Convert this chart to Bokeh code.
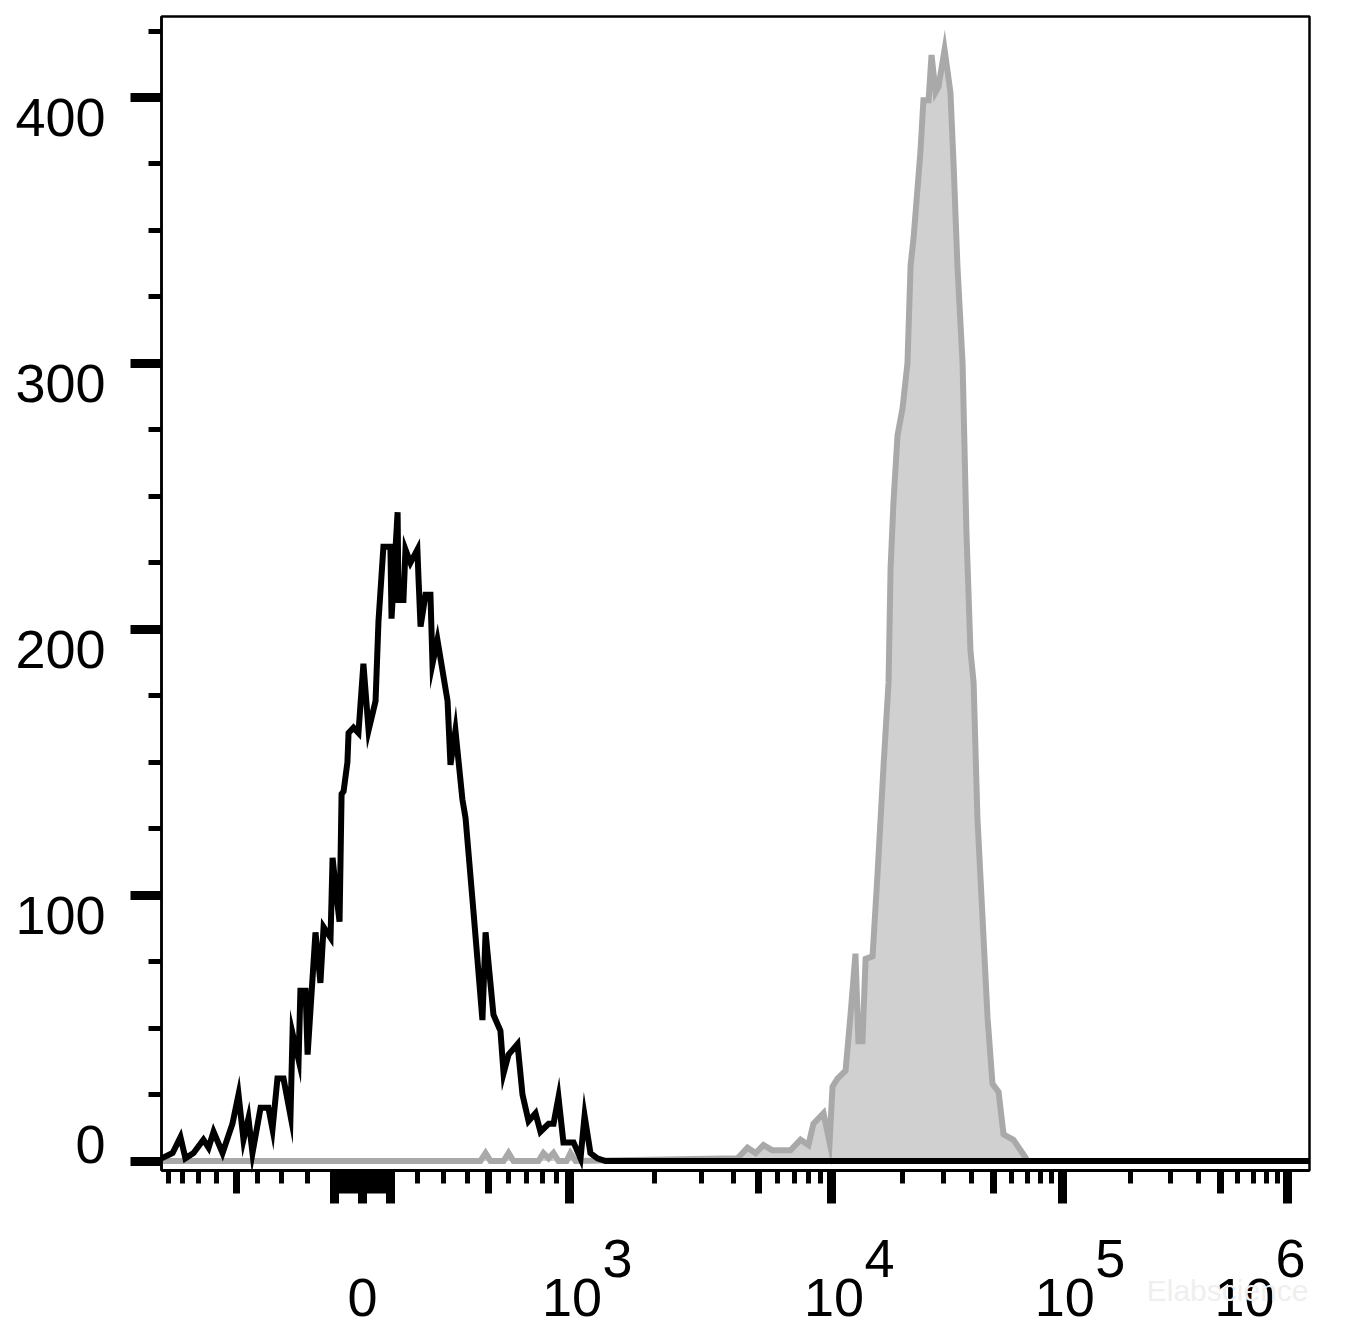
import numpy as np
from bokeh.plotting import figure
from bokeh.models import Range1d, LinearAxis, FixedTicker, Label, BoxAnnotation
from bokeh.embed import file_html
from bokeh.resources import INLINE

# ---------------- data (x = biexponential display position, decades from zero) ----
ctrl_pos = [-0.893, -0.844, -0.809, -0.787, -0.751, -0.707, -0.684, -0.662, -0.622, -0.578,
            -0.551, -0.529, -0.507, -0.489, -0.453, -0.418, -0.400, -0.378, -0.351, -0.320,
            -0.311, -0.284, -0.276, -0.253, -0.244, -0.209, -0.187, -0.173, -0.142, -0.133,
            -0.116, -0.102, -0.093, -0.084, -0.067, -0.062, -0.040, -0.018, 0.004, 0.027,
            0.058, 0.071, 0.093, 0.124, 0.129, 0.156, 0.160, 0.182, 0.191, 0.213,
            0.244, 0.249, 0.258, 0.280, 0.302, 0.311, 0.333, 0.378, 0.391, 0.413,
            0.444, 0.458, 0.493, 0.533, 0.547, 0.582, 0.613, 0.627, 0.649, 0.689,
            0.711, 0.738, 0.769, 0.791, 0.827, 0.849, 0.871, 0.893, 0.938, 0.969,
            0.987, 1.013, 1.044, 1.080, 4.209]
ctrl_count = [1, 3, 9, 1, 3, 8, 5, 11, 3, 14,
              25, 8, 16, 3, 20, 20, 12, 31, 31, 17,
              48, 38, 64, 64, 40, 86, 67, 88, 84, 114,
              100, 90, 138, 139, 150, 161, 163, 161, 187, 162,
              173, 203, 231, 231, 204, 244, 211, 211, 230, 225,
              230, 219, 201, 213, 213, 187, 196, 173, 149, 162,
              136, 129, 94, 53, 86, 55, 49, 33, 40, 44,
              25, 15, 18, 11, 14, 14, 24, 7, 7, 1,
              17, 3, 1, 0, 0]

stain_pos = [-0.893, 0.524, 0.547, 0.569, 0.627, 0.649, 0.671, 0.782, 0.804, 0.827,
             0.849, 0.871, 0.907, 0.924, 0.947, 1.667, 1.711, 1.747, 1.782, 1.822,
             1.902, 1.947, 1.982, 2.004, 2.049, 2.076, 2.089, 2.111, 2.147, 2.169,
             2.191, 2.204, 2.222, 2.236, 2.267, 2.289, 2.316, 2.338, 2.347, 2.360,
             2.378, 2.400, 2.422, 2.436, 2.449, 2.480, 2.493, 2.516, 2.529, 2.547,
             2.560, 2.587, 2.613, 2.627, 2.644, 2.667, 2.684, 2.702, 2.716, 2.733,
             2.756, 2.778, 2.800, 2.827, 2.849, 2.893, 2.933, 2.956, 4.209]
stain_count = [0, 0, 3, 0, 0, 3, 0, 0, 3, 1,
               3, 0, 0, 3, 0, 1, 5, 3, 6, 4,
               4, 8, 6, 14, 18, 7, 28, 31, 34, 55,
               78, 45, 45, 76, 77, 108, 149, 180, 223, 248,
               273, 283, 300, 337, 347, 380, 399, 399, 416, 402,
               404, 418, 402, 375, 337, 300, 237, 192, 180, 129,
               91, 54, 29, 26, 10, 8, 3, 0, 0]

y_major = [0, 100, 200, 300, 400]
y_minor = [25, 50, 75, 125, 150, 175, 225, 250, 275, 325, 350, 375, 425]

x_major_vals = [0, 1e3, 1e4, 1e5, 1e6]
x_major_base = ["0", "10", "10", "10", "10"]
x_major_exp = ["", "3", "4", "5", "6"]
x_hundreds = [-100, 100]
x_medium_vals = [-500, 500, 5e3, 5e4, 5e5]
x_near_zero = [-90, -80, -70, -60, -50, -40, -30, -20, -10, 10, 20, 30, 40, 50, 60, 70, 80, 90]
x_minor_vals = [-900, -800, -700, -600, -400, -300, -200, 200, 300, 400, 600, 700, 800, 900,
                2e3, 3e3, 4e3, 6e3, 7e3, 8e3, 9e3,
                2e4, 3e4, 4e4, 6e4, 7e4, 8e4, 9e4,
                2e5, 3e5, 4e5, 6e5, 7e5, 8e5, 9e5]

# ---------------- biexponential (logicle-like) transform -------------------------
K_SCALE = 77.0
P_SHAPE = 3.55
_grid = np.linspace(0.0, 5.0, 50001)
_svals = K_SCALE * (10 ** _grid - P_SHAPE ** 2 * 10 ** (-_grid / P_SHAPE) + P_SHAPE ** 2 - 1)


def biex(v):
    v = np.asarray(v, dtype=float)
    return (np.sign(v) * np.interp(np.abs(v), _svals, _grid)).tolist()


# plotting box (axes) limits and the full canvas view
X_START, X_END = -0.8933, 4.2089
Y_START, Y_END = -3.57, 430.47
VIEW_X = (-1.6089, 4.3911)
VIEW_Y = (-63.75, 436.48)

FONT = "Liberation Sans"

p = figure(width=1350, height=1330, output_backend="svg", toolbar_location=None,
           x_range=Range1d(*VIEW_X), y_range=Range1d(*VIEW_Y),
           x_axis_type=None, y_axis_type=None,
           min_border_left=0, min_border_right=0, min_border_top=0, min_border_bottom=0)
p.xgrid.visible = False
p.ygrid.visible = False
p.outline_line_color = None
p.background_fill_color = "white"
p.border_fill_color = "white"

# --- plot box
p.add_layout(BoxAnnotation(left=X_START, right=X_END, bottom=Y_START, top=Y_END,
                           fill_color=None, line_color="black", line_alpha=1.0,
                           line_width=2.5))

# --- stained sample (gray filled) and control (black line)
p.varea(x=stain_pos, y1=[0] * len(stain_pos), y2=stain_count, fill_color="#d0d0d0")
p.line(stain_pos, stain_count, line_color="#a9a9a9", line_width=6, line_join="miter")
p.line(ctrl_pos, ctrl_count, line_color="black", line_width=6, line_join="miter")

# --- y axis
ya = LinearAxis(ticker=FixedTicker(ticks=y_major, minor_ticks=y_minor),
                fixed_location=X_START, bounds=(Y_START, Y_END))
ya.axis_line_width = 2.5
ya.major_tick_out = 31
ya.major_tick_in = 0
ya.major_tick_line_width = 9
ya.minor_tick_out = 13
ya.minor_tick_in = 0
ya.minor_tick_line_width = 5
ya.major_label_text_color = None
p.add_layout(ya, "left")

# --- x axis: majors + minors
xa = LinearAxis(ticker=FixedTicker(ticks=biex(x_major_vals + x_hundreds),
                                   minor_ticks=biex(x_minor_vals)),
                fixed_location=Y_START, bounds=(X_START, X_END))
xa.axis_line_width = 3
xa.major_tick_out = 33
xa.major_tick_in = 0
xa.major_tick_line_width = 9
xa.minor_tick_out = 13
xa.minor_tick_in = 0
xa.minor_tick_line_width = 5
xa.major_label_text_color = None
p.add_layout(xa, "below")

# --- x axis: medium ticks
xm = LinearAxis(ticker=FixedTicker(ticks=biex(x_medium_vals + x_near_zero), minor_ticks=[]),
                fixed_location=Y_START, bounds=(X_START, X_END))
xm.axis_line_color = None
xm.major_tick_out = 23
xm.major_tick_in = 0
xm.major_tick_line_width = 7
xm.minor_tick_line_color = None
xm.major_label_text_color = None
p.add_layout(xm, "below")

# --- tick labels
for v in y_major:
    p.add_layout(Label(x=X_START, y=v, x_offset=-56, y_offset=(17 if v == 0 else -20),
                       text=str(v), text_align="right", text_baseline="middle",
                       text_font=FONT, text_font_size="54px", text_color="black"))

xpos = biex(x_major_vals)
for i, (xv, base, ex) in enumerate(zip(xpos, x_major_base, x_major_exp)):
    last = i == len(xpos) - 1
    bdx = 0 if ex == "" else (-43.5 if last else 2.5)
    p.add_layout(Label(x=xv, y=Y_START, x_offset=bdx, y_offset=-127.5, text=base,
                       text_align="center", text_baseline="middle",
                       text_font=FONT, text_font_size="54px", text_color="black"))
    if ex:
        p.add_layout(Label(x=xv, y=Y_START, x_offset=(-12.5 if last else 33), y_offset=-88.5,
                           text=ex, text_align="left", text_baseline="middle",
                           text_font=FONT, text_font_size="54px", text_color="black"))

# faint watermark
p.add_layout(Label(x=X_END, y=Y_START, x_offset=-1, y_offset=-120, text="Elabscience",
                   text_align="right", text_baseline="middle", text_font=FONT,
                   text_font_size="30px", text_color="#efefef"))

open("out.html", "w").write(file_html(p, INLINE))
